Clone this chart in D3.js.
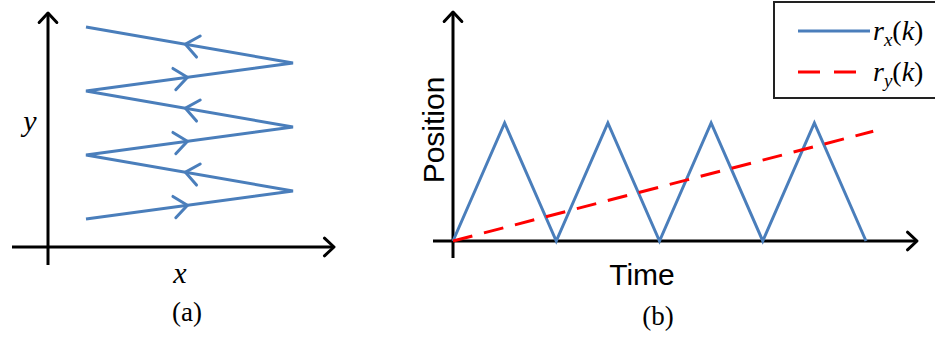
<!DOCTYPE html>
<html>
<head>
<meta charset="utf-8">
<script src="https://cdn.jsdelivr.net/npm/d3@7"></script>
<style>
  body { margin: 0; background: #fff; }
  svg { display: block; }
</style>
</head>
<body>
<svg id="chart" width="935" height="337"></svg>
<script>
// Panel (a) : zigzag scan path (x goes left/right, y climbs)
const scanX = [0, 1, 0, 1, 0, 1, 0];
const scanY = [0, 0.875, 2, 2.875, 4, 4.875, 6];

// Panel (b) : reference positions over time
const timeSteps = [0, 1, 2, 3, 4, 5, 6, 7, 8];
const rxValues = [0, 1, 0, 1, 0, 1, 0, 1, 0];
const ryTimes = [0, 8.14];
const ryValues = [0, 0.93];

// Legend labels
const legendItems = [
    { base: "r", sub: "x", color: "#4a7ebb", dash: null },
    { base: "r", sub: "y", color: "#ff0000", dash: "22,14" }
];

const blue = "#4a7ebb",
      red = "#ff0000",
      axisColor = "#000",
      serif = "Liberation Serif",
      sans = "Liberation Sans";

const svg = d3.select("#chart");

/**
 * Draws an axis line ending with an open arrow head
 */
function drawArrowAxis(g, x1, y1, x2, y2) {
    g.append("line")
        .attr("x1", x1).attr("y1", y1)
        .attr("x2", x2).attr("y2", y2)
        .attr("stroke", axisColor)
        .attr("stroke-width", 3);
    var ang = Math.atan2(y2 - y1, x2 - x1);
    var len = 13, spread = Math.PI / 4.2;
    var pts = [
        [x2 - len * Math.cos(ang - spread), y2 - len * Math.sin(ang - spread)],
        [x2, y2],
        [x2 - len * Math.cos(ang + spread), y2 - len * Math.sin(ang + spread)]
    ];
    g.append("path")
        .attr("d", d3.line()(pts))
        .attr("fill", "none")
        .attr("stroke", axisColor)
        .attr("stroke-width", 3)
        .attr("stroke-linecap", "round")
        .attr("stroke-linejoin", "round");
}

// ---------- Panel (a) ----------
var ga = svg.append("g");
var xa = d3.scaleLinear().domain([0, 1]).range([86, 293]);
var ya = d3.scaleLinear().domain([0, 6]).range([219, 27]);

drawArrowAxis(ga, 12, 247, 334, 247);
drawArrowAxis(ga, 48, 265, 48, 13);

var scanPts = scanX.map((d, i) => [xa(d), ya(scanY[i])]);
ga.append("path")
    .attr("d", d3.line()(scanPts))
    .attr("fill", "none")
    .attr("stroke", blue)
    .attr("stroke-width", 3)
    .attr("stroke-linejoin", "miter");

// Direction chevrons on every segment
for (var i = 0; i < scanPts.length - 1; i++) {
    var p0 = scanPts[i], p1 = scanPts[i + 1];
    var goingRight = p1[0] > p0[0];
    var t = goingRight ? 0.49 : 0.52;
    var tip = [p0[0] + (p1[0] - p0[0]) * t, p0[1] + (p1[1] - p0[1]) * t];
    var ang = Math.atan2(p1[1] - p0[1], p1[0] - p0[0]);
    var len = 17, spread = Math.PI / 4.6;
    var chev = [
        [tip[0] - len * Math.cos(ang - spread), tip[1] - len * Math.sin(ang - spread)],
        tip,
        [tip[0] - len * Math.cos(ang + spread), tip[1] - len * Math.sin(ang + spread)]
    ];
    ga.append("path")
        .attr("d", d3.line()(chev))
        .attr("fill", "none")
        .attr("stroke", blue)
        .attr("stroke-width", 3)
        .attr("stroke-linecap", "round");
}

ga.append("text")
    .attr("font-family", serif)
    .attr("x", 30).attr("y", 131)
    .attr("text-anchor", "middle")
    .attr("font-size", 30).attr("font-style", "italic")
    .text("y");
ga.append("text")
    .attr("font-family", serif)
    .attr("x", 180).attr("y", 283)
    .attr("text-anchor", "middle")
    .attr("font-size", 30).attr("font-style", "italic")
    .text("x");
ga.append("text")
    .attr("font-family", serif)
    .attr("x", 187).attr("y", 321)
    .attr("text-anchor", "middle")
    .attr("font-size", 27)
    .text("(a)");

// ---------- Panel (b) ----------
var gb = svg.append("g");
var xb = d3.scaleLinear().domain([0, 8]).range([453, 866]);
var yb = d3.scaleLinear().domain([0, 1]).range([241, 123]);

drawArrowAxis(gb, 433, yb(0), 917, yb(0));
drawArrowAxis(gb, xb(0), 258, xb(0), 12);

var lineB = d3.line()
    .x(d => xb(d[0]))
    .y(d => yb(d[1]));

gb.append("path")
    .attr("d", lineB(timeSteps.map((d, i) => [d, rxValues[i]])))
    .attr("fill", "none")
    .attr("stroke", blue)
    .attr("stroke-width", 3)
    .attr("stroke-linejoin", "miter");

gb.append("path")
    .attr("d", lineB(ryTimes.map((d, i) => [d, ryValues[i]])))
    .attr("fill", "none")
    .attr("stroke", red)
    .attr("stroke-width", 3)
    .attr("stroke-dasharray", "20,12");

gb.append("text")
    .attr("font-family", sans)
    .attr("transform", "translate(444,130) rotate(-90)")
    .attr("text-anchor", "middle")
    .attr("font-size", 30)
    .text("Position");
gb.append("text")
    .attr("font-family", sans)
    .attr("x", 642).attr("y", 285)
    .attr("text-anchor", "middle")
    .attr("font-size", 30)
    .text("Time");
gb.append("text")
    .attr("font-family", serif)
    .attr("x", 658).attr("y", 325)
    .attr("text-anchor", "middle")
    .attr("font-size", 27)
    .text("(b)");

// Legend (box runs past the right edge, as in the original)
var leg = svg.append("g");
leg.append("rect")
    .attr("x", 774).attr("y", 2)
    .attr("width", 200).attr("height", 96)
    .attr("fill", "#fff")
    .attr("stroke", "#222")
    .attr("stroke-width", 2);

legendItems.forEach(function (d, i) {
    var cy = 31 + i * 41;
    leg.append("line")
        .attr("x1", 798).attr("x2", 870)
        .attr("y1", cy).attr("y2", cy)
        .attr("stroke", d.color)
        .attr("stroke-width", 3)
        .attr("stroke-dasharray", d.dash);
    var txt = leg.append("text")
        .attr("font-family", serif)
        .attr("x", 873).attr("y", cy + 9)
        .attr("font-size", 28);
    txt.append("tspan").attr("font-style", "italic").text(d.base);
    txt.append("tspan").attr("font-style", "italic")
        .attr("font-size", 19).attr("dy", 6).text(d.sub);
    txt.append("tspan").attr("dy", -6).text("(");
    txt.append("tspan").attr("font-style", "italic").text("k");
    txt.append("tspan").text(")");
});
</script>
</body>
</html>
